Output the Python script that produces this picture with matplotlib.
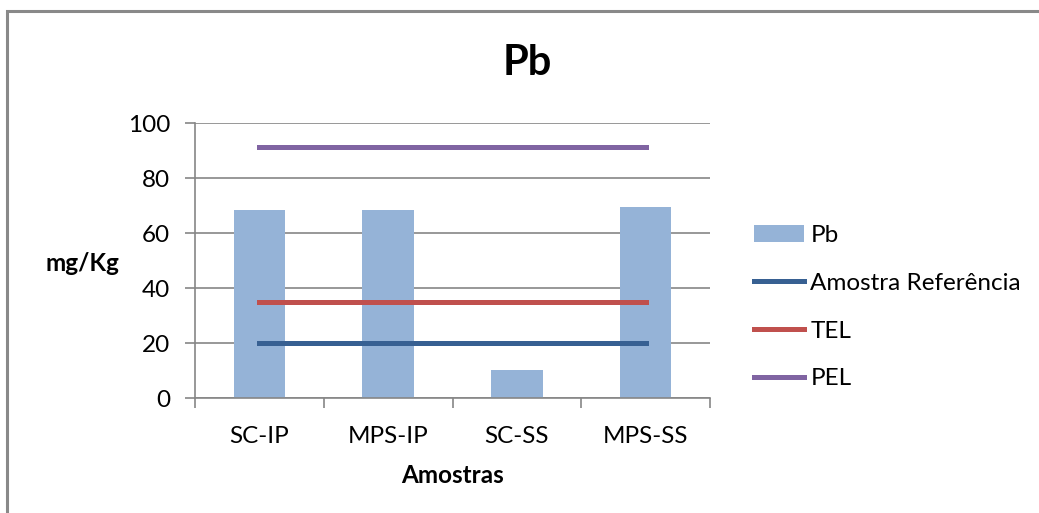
import matplotlib.pyplot as plt
from matplotlib.lines import Line2D
from matplotlib.patches import Patch, Rectangle

plt.rcParams["font.family"] = ["Lato", "DejaVu Sans"]

# Pb concentration per sample (mg/Kg) and reference levels
amostras = ["SC-IP", "MPS-IP", "SC-SS", "MPS-SS"]
pb = [68.5, 68.5, 10.3, 69.6]
referencia = [20.0, 20.0, 20.0, 20.0]
tel = [35.0, 35.0, 35.0, 35.0]
pel = [91.3, 91.3, 91.3, 91.3]

bar_color = "#95B3D7"
ref_color = "#376092"
tel_color = "#C0504D"
pel_color = "#8064A2"
grid_color = "#868686"
fs = 17.5

fig = plt.figure(figsize=(10.39, 5.13), dpi=100)
ax = fig.add_axes([0.1877, 0.2236, 0.4957, 0.5360])

x = list(range(len(amostras)))
ax.bar(x, pb, width=0.4, color=bar_color, zorder=2)
ax.plot(x, referencia, color=ref_color, linewidth=3.6, zorder=3)
ax.plot(x, tel, color=tel_color, linewidth=3.6, zorder=3)
ax.plot(x, pel, color=pel_color, linewidth=3.6, zorder=3)

ax.set_xlim(-0.5, len(amostras) - 0.5)
ax.set_ylim(0, 100)
ax.set_yticks(range(0, 101, 20))
ax.set_xticks(x)
ax.set_xticklabels(amostras, fontsize=fs)
ax.set_xticks([i - 0.5 for i in range(len(amostras) + 1)], minor=True)
ax.tick_params(axis="x", which="major", length=0, pad=20)
ax.tick_params(axis="x", which="minor", length=7, width=1.2, color=grid_color)
ax.tick_params(axis="y", length=7, width=1.2, color=grid_color, labelsize=fs, pad=11)

ax.yaxis.grid(True, color=grid_color, linewidth=1.2, zorder=0)
ax.set_axisbelow(True)
for side in ["top", "right"]:
    ax.spines[side].set_visible(False)
for side in ["left", "bottom"]:
    ax.spines[side].set_color(grid_color)
    ax.spines[side].set_linewidth(1.2)

fig.text(0.508, 0.878, "Pb", fontsize=30, fontweight="bold", ha="center", va="center")
fig.text(0.079, 0.487, "mg/Kg", fontsize=fs, fontweight="bold", ha="center", va="center")
fig.text(0.436, 0.074, "Amostras", fontsize=fs, fontweight="bold", ha="center", va="center")

handles = [
    Patch(facecolor=bar_color),
    Line2D([], [], color=ref_color, linewidth=3.6),
    Line2D([], [], color=tel_color, linewidth=3.6),
    Line2D([], [], color=pel_color, linewidth=3.6),
]
labels = ["Pb", "Amostra Referência", "TEL", "PEL"]
fig.legend(handles, labels, loc="center left", bbox_to_anchor=(0.705, 0.401),
           frameon=False, fontsize=fs, handlelength=2.05, handletextpad=0.25,
           labelspacing=1.1)

# outer chart frame (only top and left edges fall inside the canvas)
fig.patches.append(Rectangle((0.0068, -0.05), 1.2, 1.0286, transform=fig.transFigure,
                             fill=False, edgecolor="#898989", linewidth=2.2))

fig.savefig("out.png", dpi=100)
